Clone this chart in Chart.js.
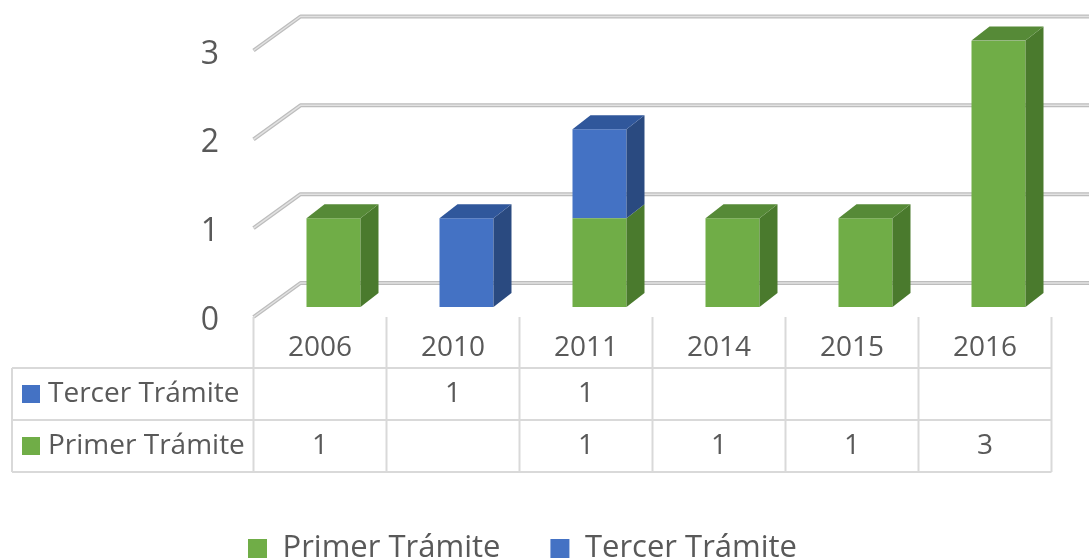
<!DOCTYPE html>
<html>
<head>
<meta charset="utf-8">
<script src="https://cdn.jsdelivr.net/npm/chart.js@4.4.1/dist/chart.umd.min.js"></script>
<style>
  html, body { margin: 0; padding: 0; background: #fff; }
  #wrap { width: 1089px; height: 560px; }
</style>
</head>
<body>
<div id="wrap"><canvas id="chart"></canvas></div>
<script>
const years = ["2006", "2010", "2011", "2014", "2015", "2016"];
const primerTramite = [1, null, 1, 1, 1, 3];
const tercerTramite = [null, 1, 1, null, null, null];
const yTicks = [0, 1, 2, 3];
const seriesNames = ["Primer Trámite", "Tercer Trámite"];

const TEXT = "#595959";
const FONT = "\"Open Sans\", \"Noto Sans\", sans-serif";
Chart.defaults.font.family = FONT;

// 3D offsets relative to the bar front plane
const BAR_DX = 18, BAR_DY = -14;
const FRONT_DX = -13.5, FRONT_DY = 10;
const BACK_DX = 33.5, BACK_DY = -24;
const PLOT_BOTTOM = 307;
const LEGEND_DROP = 14;

const faces = [
  { front: "#70ad47", side: "#4a7a2d", top: "#568a37" },
  { front: "#4472c4", side: "#2a4a80", top: "#30579b" }
];

const wallPlugin = {
  id: "wall",
  beforeDatasetsDraw(chart) {
    const { ctx, chartArea, scales: { y } } = chart;
    ctx.save();
    ctx.lineJoin = "round";
    yTicks.forEach((v) => {
      const py = y.getPixelForValue(v);
      const path = () => {
        ctx.beginPath();
        ctx.moveTo(chartArea.left + FRONT_DX, py + FRONT_DY);
        ctx.lineTo(chartArea.left + BACK_DX, py + BACK_DY);
        ctx.lineTo(chart.width, py + BACK_DY);
      };
      path();
      ctx.strokeStyle = "#bdbdbd";
      ctx.lineWidth = 4;
      ctx.stroke();
      path();
      ctx.strokeStyle = "#e2e2e2";
      ctx.lineWidth = 1.5;
      ctx.stroke();
    });
    ctx.restore();
  },
  afterDatasetsDraw(chart) {
    const { ctx } = chart;
    const sets = chart.data.datasets;
    ctx.save();
    sets.forEach((ds, di) => {
      const meta = chart.getDatasetMeta(di);
      meta.data.forEach((bar, i) => {
        if (ds.data[i] == null) return;
        const { x, y, base, width } = bar.getProps(["x", "y", "base", "width"], true);
        const l = x - width / 2, r = x + width / 2;
        ctx.fillStyle = faces[di].side;
        ctx.beginPath();
        ctx.moveTo(r, y);
        ctx.lineTo(r + BAR_DX, y + BAR_DY);
        ctx.lineTo(r + BAR_DX, base + BAR_DY);
        ctx.lineTo(r, base);
        ctx.closePath();
        ctx.fill();
        const topmost = sets.slice(di + 1).every((d) => d.data[i] == null);
        if (topmost) {
          ctx.fillStyle = faces[di].top;
          ctx.beginPath();
          ctx.moveTo(l, y);
          ctx.lineTo(l + BAR_DX, y + BAR_DY);
          ctx.lineTo(r + BAR_DX, y + BAR_DY);
          ctx.lineTo(r, y);
          ctx.closePath();
          ctx.fill();
        }
      });
    });
    ctx.restore();
  }
};

const tablePlugin = {
  id: "dataTable",
  afterDraw(chart) {
    const { ctx, scales: { x, y } } = chart;
    const cw = x.width / years.length;
    const colL = (i) => x.getPixelForValue(0) - cw / 2 + i * cw + FRONT_DX;
    const top = y.getPixelForValue(0) + FRONT_DY;
    const headH = 51, rowH = 52, tableLeft = 12;
    const rowsTop = top + headH;
    const rows = [
      { name: seriesNames[1], color: faces[1].front, data: tercerTramite },
      { name: seriesNames[0], color: faces[0].front, data: primerTramite }
    ];
    const right = colL(years.length);
    const bottom = rowsTop + rows.length * rowH;

    ctx.save();
    ctx.strokeStyle = "#d9d9d9";
    ctx.lineWidth = 2;
    ctx.beginPath();
    for (let i = 0; i <= years.length; i++) {
      ctx.moveTo(colL(i), top);
      ctx.lineTo(colL(i), bottom);
    }
    ctx.moveTo(tableLeft, rowsTop);
    ctx.lineTo(tableLeft, bottom);
    for (let r = 0; r <= rows.length; r++) {
      ctx.moveTo(tableLeft, rowsTop + r * rowH);
      ctx.lineTo(right, rowsTop + r * rowH);
    }
    ctx.stroke();

    ctx.fillStyle = TEXT;
    ctx.font = `28px ${FONT}`;
    ctx.textAlign = "center";
    ctx.textBaseline = "middle";
    years.forEach((yr, i) => ctx.fillText(yr, colL(i) + cw / 2, top + 31));

    rows.forEach((row, r) => {
      const cy = rowsTop + r * rowH + rowH / 2;
      ctx.fillStyle = row.color;
      ctx.fillRect(22, cy - 9, 18, 18);
      ctx.fillStyle = TEXT;
      ctx.textAlign = "left";
      ctx.fillText(row.name, 48, cy);
      ctx.textAlign = "center";
      row.data.forEach((v, i) => {
        if (v != null) ctx.fillText(String(v), colL(i) + cw / 2, cy);
      });
    });
    ctx.restore();
  }
};

new Chart(document.getElementById("chart"), {
  type: "bar",
  data: {
    labels: years,
    datasets: [
      {
        label: seriesNames[0],
        data: primerTramite,
        backgroundColor: faces[0].front,
        categoryPercentage: 1,
        barPercentage: 0.406
      },
      {
        label: seriesNames[1],
        data: tercerTramite,
        backgroundColor: faces[1].front,
        categoryPercentage: 1,
        barPercentage: 0.406
      }
    ]
  },
  options: {
    responsive: true,
    maintainAspectRatio: false,
    animation: false,
    layout: { padding: { top: 40.5, right: 24, bottom: -LEGEND_DROP, left: -20 } },
    plugins: {
      tooltip: { enabled: false },
      legend: {
        position: "bottom",
        labels: {
          color: TEXT,
          font: { size: 31 },
          boxWidth: 19,
          boxHeight: 19,
          padding: 50
        }
      }
    },
    scales: {
      x: {
        stacked: true,
        grid: { display: false },
        border: { display: false },
        ticks: { display: false },
        afterFit(s) {
          const lg = s.chart.legend;
          s.height = s.chart.height + LEGEND_DROP - (lg ? lg.height : 0) - PLOT_BOTTOM;
          s.paddingLeft = 0;
          s.paddingRight = 0;
        }
      },
      y: {
        stacked: true,
        min: 0,
        max: 3,
        grid: { display: false, drawTicks: false },
        border: { display: false },
        ticks: {
          stepSize: 1,
          color: TEXT,
          font: { size: 32 },
          padding: 48,
          labelOffset: 14
        },
        afterFit(s) {
          s.width = 287;
          s.paddingTop = 0;
          s.paddingBottom = 0;
        }
      }
    }
  },
  plugins: [wallPlugin, tablePlugin]
});
</script>
</body>
</html>
